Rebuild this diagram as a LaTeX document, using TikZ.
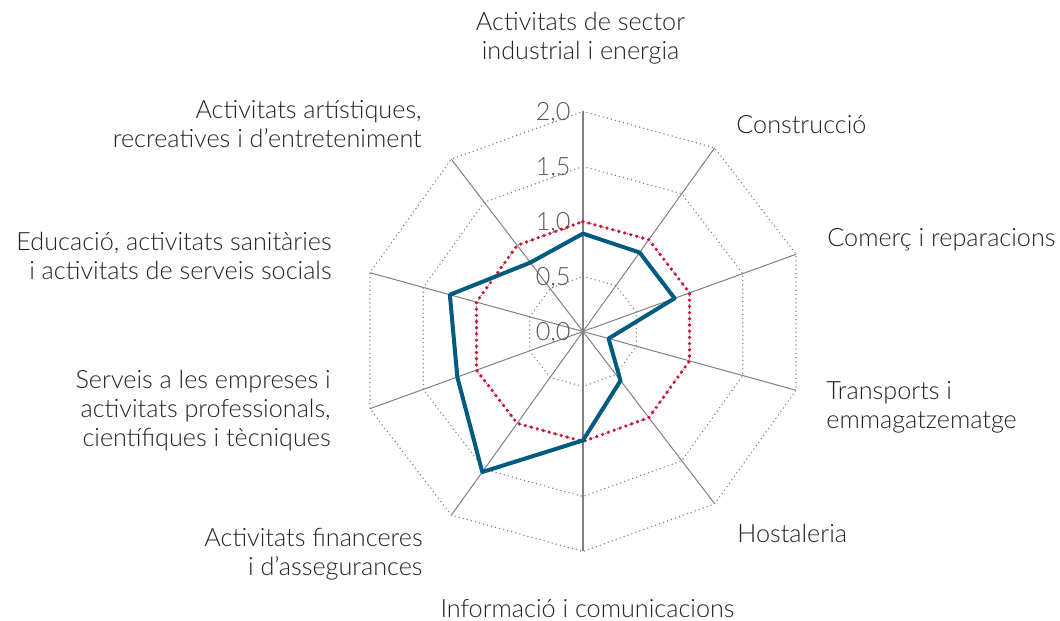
\documentclass[tikz,border=0pt]{standalone}
\usepackage{fontspec}
\setmainfont{Lato Light}
\usepackage{tikz}

\definecolor{inkgray}{HTML}{222222}
\definecolor{tickgray}{HTML}{595959}
\definecolor{gridgray}{HTML}{7A7A7A}
\definecolor{axisgray}{HTML}{808080}
\definecolor{dataBlue}{HTML}{005B82}
\definecolor{refRed}{HTML}{D2102F}

\begin{document}
\begin{tikzpicture}[x=0.5pt, y=0.5pt,
    every node/.style={inner sep=0pt, text=inkgray, font=\fontsize{12.6}{14.5}\selectfont},
    ring/.style={color=gridgray, line width=0.75pt, line cap=round, dash pattern=on 0pt off 2.1pt},
    spoke/.style={color=axisgray, line width=0.5pt},
    valueaxis/.style={color=axisgray, line width=1.2pt},
    refline/.style={color=refRed, line width=1.8pt, line cap=round, dash pattern=on 0pt off 3.1pt},
    dataline/.style={color=dataBlue, line width=2pt, line join=round},
    ticklabel/.style={anchor=east, xshift=-6pt, yshift=-1pt, text=tickgray}]
    \useasboundingbox (0,0) rectangle (1060,621);

    % radar grid, values 0 to 2
    \begin{scope}[shift={(583,289.5)}, xscale=112, yscale=110, yslant=0.044]
        \coordinate (centre) at (0,0);
        \foreach \r in {0.5, 1, 1.5, 2}
            \draw[ring] (90:\r) \foreach \a in {54, 18, ..., -234} { -- (\a:\r) } -- cycle;
        \foreach \a in {54, 18, -18, -54, -126, -162, -198, -234}
            \draw[spoke] (centre) -- (\a:2);
        \draw[valueaxis] (90:2) -- (-90:2);

        \foreach \r/\t [count=\k] in {0/{0,0}, 0.5/{0,5}, 1/{1,0}, 1.5/{1,5}, 2/{2,0}}
            \node[ticklabel] (tick\k) at (90:\r) {\t};

        % reference level
        \draw[refline] (90:1) \foreach \a in {54, 18, ..., -234} { -- (\a:1) } -- cycle;

        % sector values
        \draw[dataline] (90:0.89) -- (54:0.86) -- (18:0.86) -- (-18:0.24) -- (-54:0.57)
            -- (-90:0.99) -- (-126:1.53) -- (-162:1.18) -- (-198:1.25) -- (-234:0.80) -- cycle;
    \end{scope}

    \node[align=center] (industria) at (580.5,583) {Activitats de sector\\industrial i energia};
    \node[anchor=west] (construccio) at (736,496) {Construcció};
    \node[anchor=west] (comerc) at (827,381) {Comerç i reparacions};
    \node[anchor=west, align=left] (transports) at (826,214) {Transports i\\emmagatzematge};
    \node[anchor=west] (hostaleria) at (737,88) {Hostaleria};
    \node (informacio) at (587.5,12) {Informació i comunicacions};
    \node[anchor=east, align=right] (financeres) at (423,67) {Activitats financeres\\i d’assegurances};
    \node[anchor=east, align=right] (serveis) at (331,210) {Serveis a les empreses i\\activitats professionals,\\científiques i tècniques};
    \node[anchor=east, align=right] (educacio) at (332,365) {Educació, activitats sanitàries\\i activitats de serveis socials};
    \node[anchor=east, align=right] (artistiques) at (422,497) {Activitats artístiques,\\recreatives i d’entreteniment};
\end{tikzpicture}
\end{document}
